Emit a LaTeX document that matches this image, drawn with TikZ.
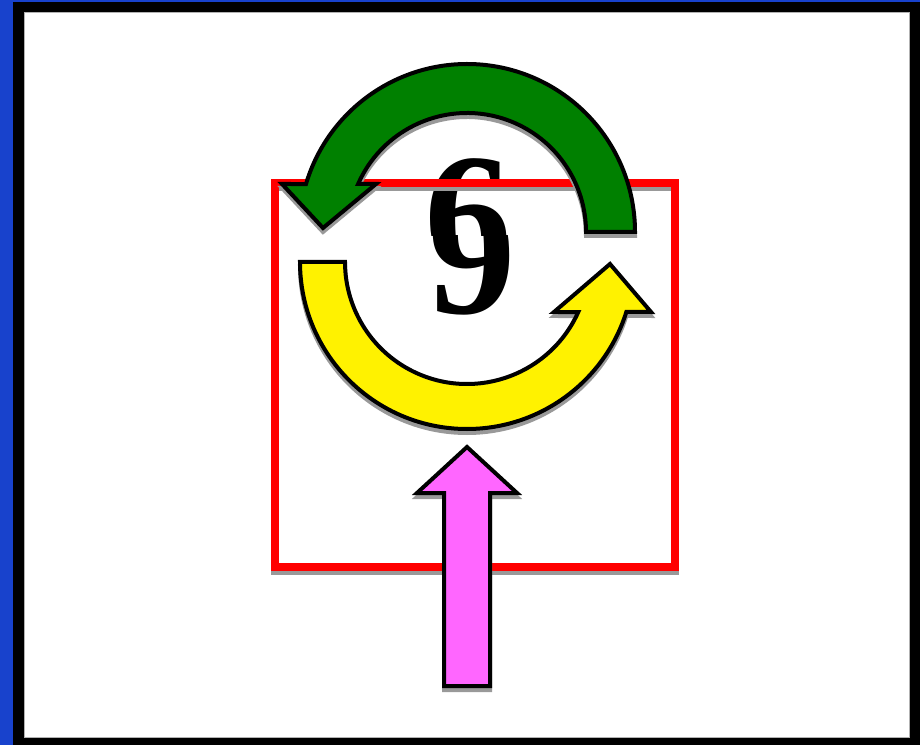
\documentclass[tikz,border=0pt]{standalone}
\usepackage{fontspec}
\setmainfont{Liberation Serif}
\usepackage{xcolor}
\usepackage{tikz}

\definecolor{frameblue}{RGB}{24,66,204}
\definecolor{arrowgreen}{RGB}{0,128,0}
\definecolor{arrowpink}{RGB}{255,102,255}

\begin{document}
\begin{tikzpicture}[
  x=1pt, y=1pt,
  dropshade/.style={preaction={draw=black!40, fill=black!40, line width=4pt, transform canvas={yshift=-4pt}}},
  blockarrow/.style={draw=black, line width=4pt, line join=miter, miter limit=12, dropshade},
  digit/.style={inner sep=0pt, anchor=base, font=\fontsize{175}{175}\selectfont\bfseries},
  frame/.style={draw=red, line width=8pt, minimum width=400pt, minimum height=384pt, inner sep=0pt,
    preaction={draw=black!40, line width=8pt, transform canvas={yshift=-4pt}}}
]
\useasboundingbox (0,0) rectangle (920,745);
% screen frame
\fill[frameblue] (0,0) rectangle (920,745);
\fill[black] (13,0) rectangle (920,743);
\filldraw[fill=white, draw=black!30, line width=0.8pt] (24,8) rectangle (909,733);

% the digit: top of a 6 joined to the bottom of a 9
\begin{scope}
  \clip (380,509) rectangle (560,620);
  \node[digit] (six) at (468,470) {6};
\end{scope}
\begin{scope}
  \clip (380,509) rectangle (560,380);
  \node[digit] (nine) at (472,431) {9};
\end{scope}

% the square
\node[frame] (square) at (475,370) {};

% yellow arrow, lower half turn
\begin{scope}[shift={(467,483)}]
  \draw[blockarrow, fill=yellow] (180:122) -- (180:167) arc[start angle=180, end angle=342.6, radius=167]
    -- (184,-50) -- (143,-2) -- (87,-50) -- (335.8:122) arc[start angle=335.8, end angle=180, radius=122] -- cycle;
\end{scope}

% green arrow, upper half turn
\begin{scope}[shift={(467,513)}]
  \draw[blockarrow, fill=arrowgreen] (0:119) -- (0:168) arc[start angle=0, end angle=163.4, radius=168]
    -- (-185,48) -- (-144,4) -- (-91,48) -- (156.2:119) arc[start angle=156.2, end angle=0, radius=119] -- cycle;
\end{scope}

% pink arrow from below
\draw[blockarrow, fill=arrowpink] (444,59) -- (444,252) -- (417,252) -- (467,298) -- (517,252)
  -- (490,252) -- (490,59) -- cycle;
\end{tikzpicture}
\end{document}
